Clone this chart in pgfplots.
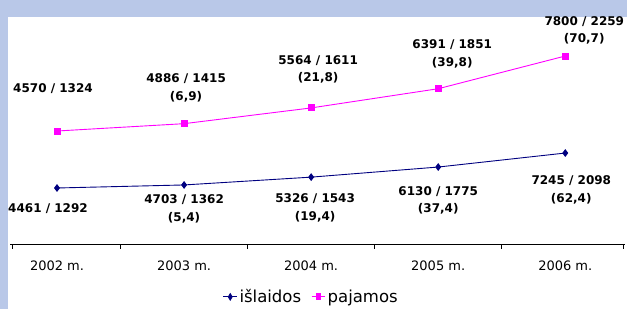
\documentclass[border=0pt]{standalone}
\usepackage{pgfplots}
\pgfplotsset{compat=1.18}
\usepackage{fontspec}
\setmainfont{DejaVu Sans}
\definecolor{bgblue}{RGB}{185,200,232}
\definecolor{navyb}{RGB}{0,0,128}
\definecolor{pinkm}{RGB}{255,0,255}
\tikzset{lab/.style={font=\fontsize{12}{17.5}\selectfont\bfseries, align=center, inner sep=0pt, anchor=center}}
\begin{document}
\begin{tikzpicture}[x=1pt,y=1pt]
\fill[bgblue] (0,0) rectangle (627,309);
\fill[white] (8,0) rectangle (627,292);
% pajamos axis
\begin{axis}[
  at={(10pt,65pt)}, anchor=south west,
  scale only axis, width=615pt, height=226pt,
  xmin=-0.37, xmax=4.47, ymin=-296, ymax=9437,
  hide axis, clip=false]
\addplot[pinkm, line width=0.9pt, mark=square*, mark size=3pt, mark options={solid, fill=pinkm, draw=pinkm}]
  coordinates {(0,4570) (1,4886) (2,5564) (3,6391) (4,7800)};
\node[lab] at (axis cs:0,4570) [xshift=-4pt, yshift=42pt] {4570 / 1324};
\node[lab] at (axis cs:1,4886) [xshift=2pt, yshift=36pt] {4886 / 1415\\(6,9)};
\node[lab] at (axis cs:2,5564) [xshift=7pt, yshift=38.5pt] {5564 / 1611\\(21,8)};
\node[lab] at (axis cs:3,6391) [xshift=14pt, yshift=35pt] {6391 / 1851\\(39,8)};
\node[lab] at (axis cs:4,7800) [xshift=19pt, yshift=25.5pt] {7800 / 2259\\(70,7)};
\end{axis}
% islaidos axis
\begin{axis}[
  at={(10pt,65pt)}, anchor=south west,
  scale only axis, width=615pt, height=226pt,
  xmin=-0.37, xmax=4.47, ymin=0, ymax=18000,
  axis x line=bottom, axis y line=none,
  x axis line style={-, black, line width=0.9pt},
  xtick={0,1,2,3,4},
  xticklabels={2002 m.,2003 m.,2004 m.,2005 m.,2006 m.},
  major tick length=0pt,
  tick align=outside,
  extra x ticks={-0.355,0.5,1.5,2.5,3.5,4.455},
  extra x tick labels={},
  extra x tick style={major tick length=4.5pt, tick style={black, line width=0.8pt}},
  xticklabel style={font=\fontsize{13}{15}\selectfont, yshift=-13.5pt},
  clip=false,
  legend image post style={xscale=0.8},
  legend style={at={(0.49,-0.234)}, anchor=center, draw=none, fill=none,
    font=\fontsize{16.5}{19}\selectfont, legend columns=2,
    /tikz/every even column/.append style={column sep=8pt}},
  legend cell align=left]
\addplot[navyb, line width=0.9pt, mark=diamond*, mark size=3.2pt, mark options={solid, fill=navyb, draw=navyb}]
  coordinates {(0,4461) (1,4703) (2,5326) (3,6130) (4,7245)};
\addlegendentry{išlaidos}
\addlegendimage{pinkm, line width=0.9pt, mark=square*, mark size=3pt, mark options={solid, fill=pinkm, draw=pinkm}}
\addlegendentry{pajamos}
\node[lab] at (axis cs:0,4461) [xshift=-9pt, yshift=-21pt] {4461 / 1292};
\node[lab] at (axis cs:1,4703) [xshift=0pt, yshift=-24pt] {4703 / 1362\\(5,4)};
\node[lab] at (axis cs:2,5326) [xshift=4pt, yshift=-31pt] {5326 / 1543\\(19,4)};
\node[lab] at (axis cs:3,6130) [xshift=0pt, yshift=-33.5pt] {6130 / 1775\\(37,4)};
\node[lab] at (axis cs:4,7245) [xshift=6pt, yshift=-37pt] {7245 / 2098\\(62,4)};
\end{axis}
\end{tikzpicture}
\end{document}
